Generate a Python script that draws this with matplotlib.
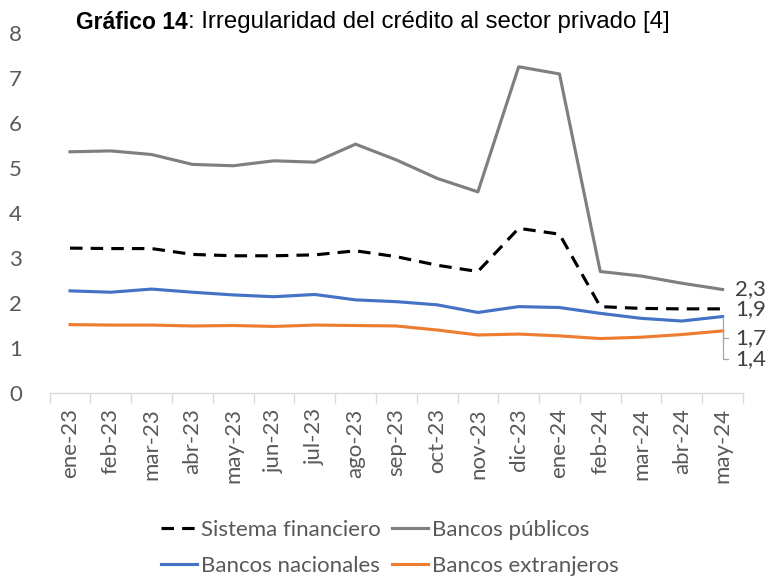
import numpy as np
import matplotlib.pyplot as plt

# Irregularidad del credito al sector privado (%)
meses = ['ene-23', 'feb-23', 'mar-23', 'abr-23', 'may-23', 'jun-23', 'jul-23',
         'ago-23', 'sep-23', 'oct-23', 'nov-23', 'dic-23', 'ene-24', 'feb-24',
         'mar-24', 'abr-24', 'may-24']

sistema = [3.22, 3.21, 3.21, 3.08, 3.05, 3.05, 3.07, 3.16, 3.03, 2.84, 2.70,
           3.66, 3.53, 1.92, 1.88, 1.87, 1.87]
publicos = [5.36, 5.38, 5.30, 5.08, 5.05, 5.16, 5.13, 5.53, 5.18, 4.77, 4.47,
            7.25, 7.09, 2.70, 2.60, 2.44, 2.30]
nacionales = [2.27, 2.24, 2.31, 2.24, 2.18, 2.14, 2.19, 2.07, 2.03, 1.96, 1.79,
              1.92, 1.90, 1.77, 1.66, 1.60, 1.70]
extranjeros = [1.52, 1.51, 1.51, 1.49, 1.50, 1.48, 1.51, 1.50, 1.49, 1.40, 1.29,
               1.31, 1.27, 1.21, 1.24, 1.30, 1.38]

tick_font = 'Lato'
txt_gray = '#595959'
fs = 16

fig = plt.figure(figsize=(7.66, 5.79), dpi=100)
ax = fig.add_axes([0.0648, 0.3212, 0.9052, 0.6218])

x = np.arange(len(meses))
lw = 2.25
l_sis, = ax.plot(x, sistema, color='black', lw=lw, dashes=(4, 2.6), label='Sistema financiero')
l_pub, = ax.plot(x, publicos, color='#7F7F7F', lw=lw, label='Bancos públicos')
l_nac, = ax.plot(x, nacionales, color='#4472C4', lw=lw, label='Bancos nacionales')
l_ext, = ax.plot(x, extranjeros, color='#ED7D31', lw=lw, label='Bancos extranjeros')

ax.set_xlim(-0.5, len(meses) - 0.5)
ax.set_ylim(0, 8)
ax.set_yticks(range(0, 9))

# category labels at centers, tick marks at the boundaries
ax.set_xticks(x)
ax.set_xticklabels(meses, rotation=90, fontsize=fs, color=txt_gray, family=tick_font)
ax.set_xticks(np.arange(-0.5, len(meses)), minor=True)
ax.tick_params(axis='x', which='major', length=0, pad=11)
ax.tick_params(axis='x', which='minor', length=7, color='#D9D9D9', width=1)
ax.tick_params(axis='y', length=0, pad=20, labelsize=fs, labelcolor=txt_gray)
for lab in ax.get_yticklabels():
    lab.set_family(tick_font)

for s in ['top', 'right', 'left']:
    ax.spines[s].set_visible(False)
ax.spines['bottom'].set_color('#D9D9D9')
ax.spines['bottom'].set_linewidth(1)

# end labels
last = len(meses) - 1
def fmt(v):
    return f'{v:.1f}'.replace('.', ',')

lab_x = last + 0.3
ax.text(lab_x, publicos[-1], fmt(publicos[-1]), va='center', ha='left',
        fontsize=fs, color='#404040', family=tick_font)
ax.text(lab_x, sistema[-1], fmt(sistema[-1]), va='center', ha='left',
        fontsize=fs, color='#404040', family=tick_font)
# leader lines for the two lower labels
for v, ly in [(nacionales[-1], 1.22), (extranjeros[-1], 0.76)]:
    ax.plot([last, last, last + 0.14], [v, ly, ly], color='#A6A6A6', lw=0.9,
            clip_on=False)
    ax.text(lab_x, ly, fmt(v), va='center', ha='left', fontsize=fs,
            color='#404040', family=tick_font)

# title: bold part + normal part
t1 = fig.text(0.0995, 0.962, 'Gráfico 14', fontsize=16.5, fontweight='bold',
              family='Liberation Sans', va='center', ha='left')
ax.annotate(': Irregularidad del crédito al sector privado [4]', xy=(1, 0.5),
            xycoords=t1, va='center', ha='left', fontsize=17.3,
            family='Liberation Sans', annotation_clip=False)

# legend filled column-wise, so order gives rows: sistema/publicos, nacionales/extranjeros
leg = fig.legend([l_sis, l_nac, l_pub, l_ext],
                 ['Sistema financiero', 'Bancos nacionales', 'Bancos públicos',
                  'Bancos extranjeros'],
                 loc='center', bbox_to_anchor=(0.509, 0.054), ncol=2,
                 frameon=False, handlelength=1.6,
                 handletextpad=0.2, columnspacing=0.5, labelspacing=0.72,
                 prop={'family': tick_font, 'size': fs})
for t in leg.get_texts():
    t.set_color(txt_gray)

fig.savefig('out.png', dpi=100)
